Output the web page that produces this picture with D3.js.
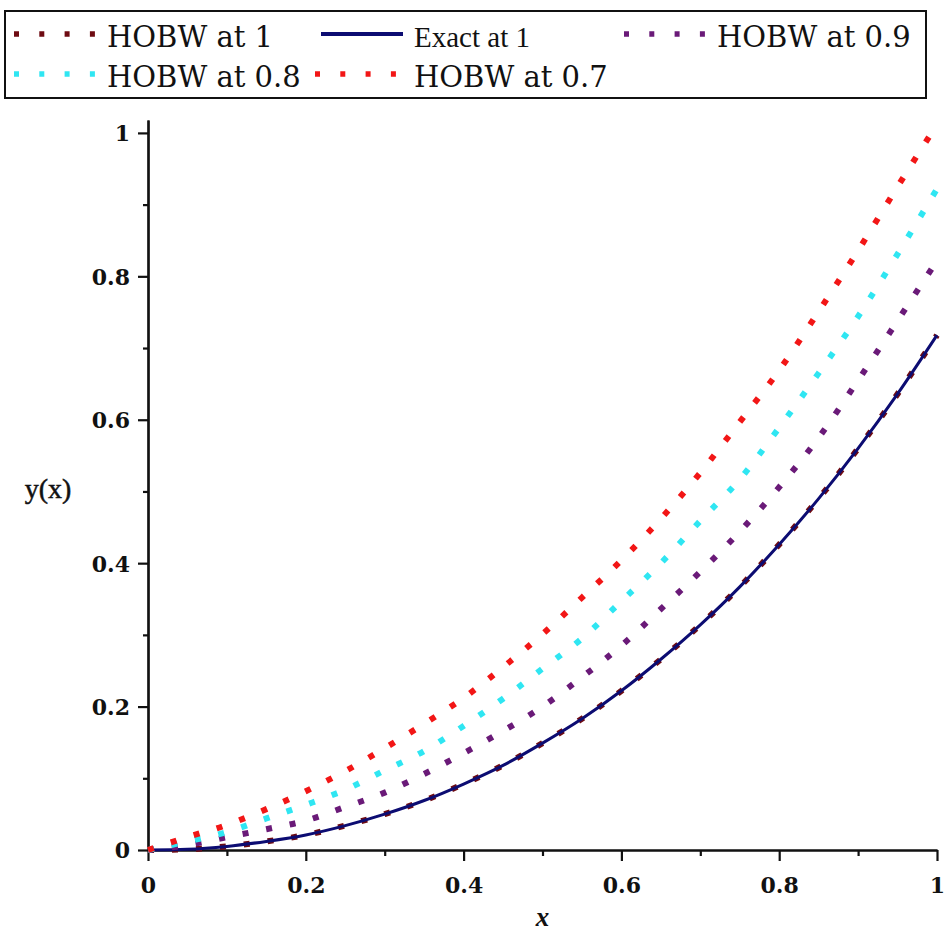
<!DOCTYPE html>
<html>
<head>
<meta charset="utf-8">
<script src="https://cdn.jsdelivr.net/npm/d3@7"></script>
<style>
  body { margin: 0; background: #fff; }
  svg { display: block; }
</style>
</head>
<body>
<div id="chart"></div>
<script>
var width = 945;
var height = 933;

// values, x from 0 to 1 in steps of 0.05
const xs = [0, 0.05, 0.1, 0.15, 0.2, 0.25, 0.3, 0.35, 0.4, 0.45, 0.5,
            0.55, 0.6, 0.65, 0.7, 0.75, 0.8, 0.85, 0.9, 0.95, 1];
const exact1 = [0, 0.001, 0.005, 0.012, 0.021, 0.034, 0.050, 0.069, 0.092, 0.118, 0.149,
                0.183, 0.222, 0.266, 0.314, 0.367, 0.426, 0.490, 0.560, 0.636, 0.718];
const hobw1 = [0, 0.001, 0.005, 0.012, 0.021, 0.034, 0.050, 0.069, 0.092, 0.118, 0.149,
               0.183, 0.222, 0.266, 0.314, 0.367, 0.426, 0.490, 0.560, 0.636, 0.718];
const hobw09 = [0, 0.007, 0.018, 0.029, 0.041, 0.060, 0.080, 0.106, 0.135, 0.166, 0.200,
                0.241, 0.285, 0.336, 0.388, 0.444, 0.506, 0.575, 0.655, 0.738, 0.822];
const hobw08 = [0, 0.012, 0.025, 0.044, 0.063, 0.084, 0.111, 0.138, 0.173, 0.211, 0.253,
                0.295, 0.347, 0.400, 0.459, 0.517, 0.589, 0.665, 0.744, 0.831, 0.922];
const hobw07 = [0, 0.018, 0.035, 0.057, 0.082, 0.110, 0.142, 0.176, 0.212, 0.255, 0.301,
                0.352, 0.404, 0.462, 0.526, 0.597, 0.669, 0.751, 0.836, 0.925, 1.012];

const majorTicks = [0, 0.2, 0.4, 0.6, 0.8, 1];
const minorTicks = [0.1, 0.3, 0.5, 0.7, 0.9];
const tickLabels = ["0", "0.2", "0.4", "0.6", "0.8", "1"];

const seriesNames = ["HOBW at 1", "Exact at 1", "HOBW at 0.9", "HOBW at 0.8", "HOBW at 0.7"];
const seriesColors = ["#6e0b12", "#0c0c72", "#6a1a78", "#2fe6f2", "#f21616"];

var series = [
  {name: seriesNames[0], values: hobw1, color: seriesColors[0], dotted: true},
  {name: seriesNames[1], values: exact1, color: seriesColors[1], dotted: false},
  {name: seriesNames[2], values: hobw09, color: seriesColors[2], dotted: true},
  {name: seriesNames[3], values: hobw08, color: seriesColors[3], dotted: true},
  {name: seriesNames[4], values: hobw07, color: seriesColors[4], dotted: true}
];

var x = d3.scaleLinear().domain([0, 1]).range([148, 937]);
var y = d3.scaleLinear().domain([0, 1.018]).range([850, 120]);

var svg = d3.select("#chart").append("svg")
  .attr("width", width)
  .attr("height", height);

svg.append("rect")
  .attr("width", width).attr("height", height)
  .attr("fill", "#fff");

var tickFont = "'DejaVu Serif', serif";
var timesFont = "'Liberation Serif', 'Times New Roman', serif";

// x axis
var xMajor = svg.append("g")
  .attr("transform", "translate(0," + y(0) + ")")
  .call(d3.axisBottom(x).tickValues(majorTicks).tickSize(11).tickSizeOuter(0)
    .tickFormat((d, i) => tickLabels[i]));
var xMinor = svg.append("g")
  .attr("transform", "translate(0," + y(0) + ")")
  .call(d3.axisBottom(x).tickValues(minorTicks).tickSize(6).tickSizeOuter(0).tickFormat(""));

// y axis
var yMajor = svg.append("g")
  .attr("transform", "translate(" + x(0) + ",0)")
  .call(d3.axisLeft(y).tickValues(majorTicks).tickSize(10).tickSizeOuter(0)
    .tickFormat((d, i) => tickLabels[i]));
var yMinor = svg.append("g")
  .attr("transform", "translate(" + x(0) + ",0)")
  .call(d3.axisLeft(y).tickValues(minorTicks).tickSize(5).tickSizeOuter(0).tickFormat(""));

svg.selectAll(".domain, .tick line")
  .attr("stroke", "#111")
  .attr("stroke-width", 2.2);

xMajor.selectAll("text")
  .attr("font-family", tickFont).attr("font-size", 22).attr("font-weight", "bold")
  .attr("fill", "#111").attr("y", 27).attr("dy", "0.71em");
yMajor.selectAll("text")
  .attr("font-family", tickFont).attr("font-size", 22).attr("font-weight", "bold")
  .attr("fill", "#111").attr("x", -18).attr("dy", "0.36em");

// axis titles
svg.append("text")
  .attr("x", 48).attr("y", 498)
  .attr("text-anchor", "middle")
  .attr("font-family", timesFont).attr("font-size", 28)
  .attr("stroke", "#111").attr("stroke-width", 0.5)
  .attr("fill", "#111")
  .text("y(x)");
svg.append("text")
  .attr("x", x(0.5)).attr("y", 926)
  .attr("text-anchor", "middle")
  .attr("font-family", timesFont).attr("font-size", 27).attr("font-weight", "bold")
  .attr("font-style", "italic")
  .attr("fill", "#111")
  .text("x");

// curves
var line = d3.line()
  .x((d, i) => x(xs[i]))
  .y(d => y(d))
  .curve(d3.curveMonotoneX);

svg.append("g")
  .selectAll("path")
  .data(series)
  .enter().append("path")
  .attr("d", d => line(d.values))
  .attr("fill", "none")
  .attr("stroke", d => d.color)
  .attr("stroke-width", d => d.dotted ? 6 : 3)
  .attr("stroke-dasharray", d => d.dotted ? "6,18" : null);

// legend
var legend = svg.append("g");
legend.append("rect")
  .attr("x", 5).attr("y", 11)
  .attr("width", 921).attr("height", 87)
  .attr("fill", "#fff")
  .attr("stroke", "#111")
  .attr("stroke-width", 2);

var legendPos = [
  {sx: 14, tx: 107, row: 0, font: tickFont},
  {sx: 321, tx: 414, row: 0, font: timesFont},
  {sx: 624, tx: 717, row: 0, font: tickFont},
  {sx: 14, tx: 107, row: 1, font: tickFont},
  {sx: 315, tx: 414, row: 1, font: tickFont}
];

series.forEach(function(s, i) {
  var p = legendPos[i];
  var cy = 34 + p.row * 40;
  legend.append("line")
    .attr("x1", p.sx).attr("x2", p.sx + 82)
    .attr("y1", cy).attr("y2", cy)
    .attr("stroke", s.color)
    .attr("stroke-width", s.dotted ? 5.5 : 4)
    .attr("stroke-dasharray", s.dotted ? "5,20.3" : null);
  legend.append("text")
    .attr("x", p.tx).attr("y", cy + 13)
    .attr("font-family", p.font)
    .attr("font-size", 29)
    .attr("fill", "#111")
    .text(s.name);
});
</script>
</body>
</html>
